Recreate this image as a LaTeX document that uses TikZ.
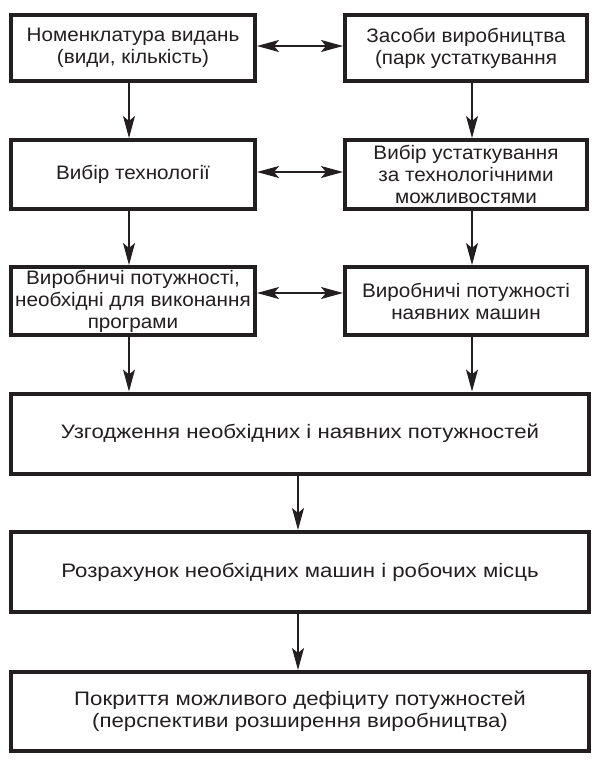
\documentclass[tikz,border=0pt]{standalone}
\usepackage{fontspec}
\setmainfont[FakeStretch=1.06]{Liberation Sans}
\newfontfamily\widefont[FakeStretch=1.14]{Liberation Sans}
\usetikzlibrary{arrows.meta}
\definecolor{ink}{HTML}{231F20}
\begin{document}
\begin{tikzpicture}[x=1pt,y=-1pt,
  box/.style={draw=ink,line width=4pt,fill=white,align=center,inner sep=0pt,
    font=\fontsize{19.5}{22}\selectfont,text=ink},
  wbox/.style={box,minimum width=578pt,font=\widefont\fontsize{19.5}{22}\selectfont},
  arr/.style={draw=ink,line width=1.1pt,-{Stealth[length=22pt,width=12pt,inset=5pt]}},
  darr/.style={draw=ink,line width=1.1pt,{Stealth[length=22pt,width=12pt,inset=5pt]}-{Stealth[length=22pt,width=12pt,inset=5pt]}}]
\useasboundingbox (0,0) rectangle (598,763);
\node[box,minimum width=244pt,minimum height=66pt] (b1) at (133,48) {Номенклатура видань\\(види, кількість)};
\node[box,minimum width=242pt,minimum height=66pt] (b2) at (466,48) {Засоби виробництва\\(парк устаткування};
\node[box,minimum width=244pt,minimum height=69pt] (b3) at (133,174.5) {Вибір технології};
\node[box,minimum width=242pt,minimum height=69pt] (b4) at (466,174.5) {Вибір устаткування\\за технологічними\\можливостями};
\node[box,minimum width=244pt,minimum height=68pt] (b5) at (133,301) {Виробничі потужності,\\необхідні для виконання\\програми};
\node[box,minimum width=242pt,minimum height=68pt] (b6) at (466,301) {Виробничі потужності\\наявних машин};
\node[wbox,minimum height=80pt] (b7) at (300,433.5) {Узгодження необхідних і наявних потужностей};
\node[wbox,minimum height=80pt] (b8) at (300,572) {Розрахунок необхідних машин і робочих місць};
\node[wbox,minimum height=79pt] (b9) at (300,711.5) {Покриття можливого дефіциту потужностей\\(перспективи розширення виробництва)};
\coordinate (xl) at (129,0);
\coordinate (xr) at (472,0);
\coordinate (xc) at (298,0);
\coordinate (r1) at (0,46);
\coordinate (r2) at (0,172);
\coordinate (r3) at (0,293);
\draw[darr] (b1.east |- r1) -- (b2.west |- r1);
\draw[darr] (b3.east |- r2) -- (b4.west |- r2);
\draw[darr] (b5.east |- r3) -- (b6.west |- r3);
\draw[arr] (b1.south -| xl) -- (b3.north -| xl);
\draw[arr] (b3.south -| xl) -- (b5.north -| xl);
\draw[arr] (b5.south -| xl) -- (b7.north -| xl);
\draw[arr] (b2.south -| xr) -- (b4.north -| xr);
\draw[arr] (b4.south -| xr) -- (b6.north -| xr);
\draw[arr] (b6.south -| xr) -- (b7.north -| xr);
\draw[arr] (b7.south -| xc) -- (b8.north -| xc);
\draw[arr] (b8.south -| xc) -- (b9.north -| xc);
\end{tikzpicture}
\end{document}
